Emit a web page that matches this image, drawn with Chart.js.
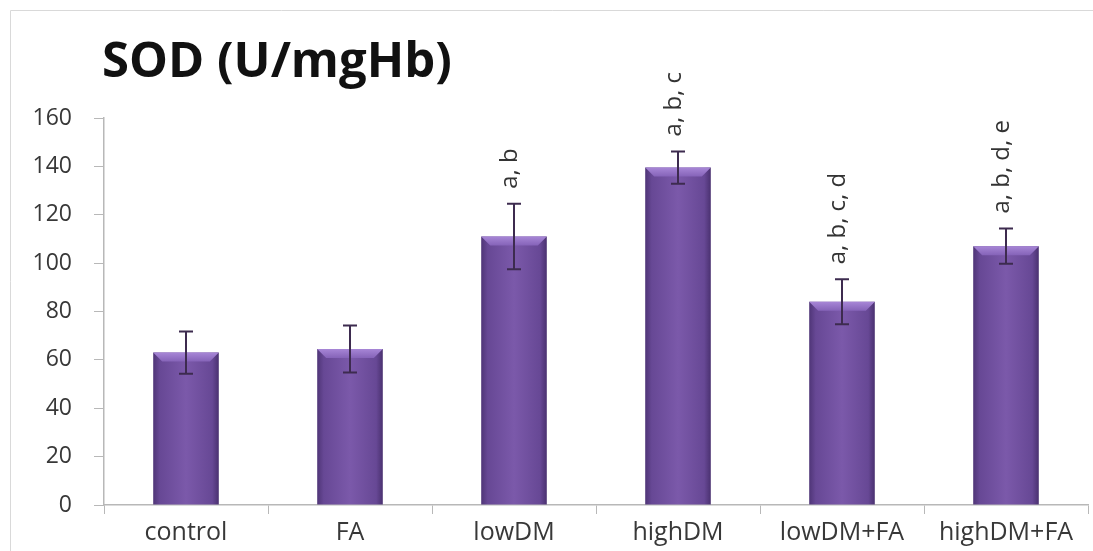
<!DOCTYPE html>
<html>
<head>
<meta charset="utf-8">
<script src="https://cdn.jsdelivr.net/npm/chart.js@4/dist/chart.umd.min.js"></script>
<style>
  html, body { margin: 0; padding: 0; background: #fff; }
  #wrap { width: 1093px; height: 551px; position: relative; }
</style>
</head>
<body>
<div id="wrap"><canvas id="chart-container" width="1093" height="551"></canvas></div>
<script>
// values
const groups = ['control', 'FA', 'lowDM', 'highDM', 'lowDM+FA', 'highDM+FA'];
const sod_mean = [63, 64.5, 111, 139.5, 84, 107];
const sod_err = [8.7, 9.7, 13.5, 6.7, 9.3, 7.3];
const sig_letters = ['', '', 'a, b', 'a, b, c', 'a, b, c, d', 'a, b, d, e'];
const y_ticks = [0, 20, 40, 60, 80, 100, 120, 140, 160];
const chart_title = 'SOD (U/mgHb)';

const FONT = "'Open Sans', sans-serif";

// frame + title, drawn before everything
const frame_plugin = {
    id: 'frame',
    beforeDraw(chart) {
        const ctx = chart.ctx;
        ctx.save();
        ctx.strokeStyle = '#d9d9d9';
        ctx.lineWidth = 1;
        ctx.beginPath();
        ctx.moveTo(10.5, 560);
        ctx.lineTo(10.5, 10.5);
        ctx.lineTo(1100, 10.5);
        ctx.stroke();
        ctx.fillStyle = '#111';
        ctx.font = "bold 49px " + FONT;
        ctx.textBaseline = 'alphabetic';
        ctx.textAlign = 'left';
        ctx.fillText(chart_title, chart.chartArea.left - 2, 77);
        ctx.restore();
    }
};

// purple shading on each bar
const shade_plugin = {
    id: 'shade',
    beforeDatasetsDraw(chart) {
        const ctx = chart.ctx;
        const meta = chart.getDatasetMeta(0);
        for (let bar of meta.data) {
            const l = bar.x - bar.width / 2;
            const r = bar.x + bar.width / 2;
            const g = ctx.createLinearGradient(l, 0, r, 0);
            g.addColorStop(0, '#4f3577');
            g.addColorStop(0.1, '#674895');
            g.addColorStop(0.5, '#7b59aa');
            g.addColorStop(0.9, '#674895');
            g.addColorStop(1, '#4a3170');
            bar.options.backgroundColor = g;
        }
    },
    afterDatasetsDraw(chart) {
        const ctx = chart.ctx;
        const meta = chart.getDatasetMeta(0);
        const yScale = chart.scales.y;
        ctx.save();
        meta.data.forEach((bar, i) => {
            // lighter bevel at top
            const l = bar.x - bar.width / 2;
            const r = bar.x + bar.width / 2;
            const t = bar.y;
            const g = ctx.createLinearGradient(0, t, 0, t + 9);
            g.addColorStop(0, '#a786d6');
            g.addColorStop(1, '#8563b8');
            ctx.fillStyle = g;
            ctx.beginPath();
            ctx.moveTo(l, t);
            ctx.lineTo(r, t);
            ctx.lineTo(r - 9, t + 9);
            ctx.lineTo(l + 9, t + 9);
            ctx.closePath();
            ctx.fill();

            // error bar
            const hi = yScale.getPixelForValue(sod_mean[i] + sod_err[i]);
            const lo = yScale.getPixelForValue(sod_mean[i] - sod_err[i]);
            ctx.strokeStyle = '#3d2b4f';
            ctx.lineWidth = 2;
            ctx.beginPath();
            ctx.moveTo(bar.x, hi);
            ctx.lineTo(bar.x, lo);
            ctx.moveTo(bar.x - 7, hi);
            ctx.lineTo(bar.x + 7, hi);
            ctx.moveTo(bar.x - 7, lo);
            ctx.lineTo(bar.x + 7, lo);
            ctx.stroke();

            // significance letters, rotated
            if (sig_letters[i]) {
                ctx.save();
                ctx.translate(bar.x + 3, hi - 15);
                ctx.rotate(-Math.PI / 2);
                ctx.fillStyle = '#333';
                ctx.font = "24px " + FONT;
                ctx.textAlign = 'left';
                ctx.textBaseline = 'alphabetic';
                ctx.fillText(sig_letters[i], 0, 0);
                ctx.restore();
            }
        });
        ctx.restore();
    }
};

const canv = document.querySelector('#chart-container');
let sod_chart = new Chart(canv, {
    type: 'bar',
    data: {
        labels: groups,
        datasets: [{
            label: 'SOD',
            data: sod_mean,
            // scriptable so each bar gets its own options object
            backgroundColor: (c) => '#6b4a9a',
            barPercentage: 0.8,
            categoryPercentage: 0.5
        }]
    },
    options: {
        responsive: false,
        animation: false,
        layout: { padding: { left: 0, right: 5, top: 118, bottom: 0 } },
        plugins: {
            legend: { display: false },
            tooltip: { enabled: false }
        },
        scales: {
            x: {
                grid: {
                    offset: true,
                    drawOnChartArea: false,
                    drawTicks: true,
                    tickLength: 9,
                    color: '#b8b8b8'
                },
                border: { color: '#b8b8b8', width: 1.5 },
                ticks: {
                    color: '#383838',
                    font: { family: FONT, size: 25 },
                    padding: 4,
                    maxRotation: 0,
                    autoSkip: false
                },
                afterFit(scale) { scale.height = 46; }
            },
            y: {
                min: 0,
                max: 160,
                afterBuildTicks(scale) { scale.ticks = y_ticks.map((v) => ({ value: v })); },
                grid: {
                    drawOnChartArea: false,
                    drawTicks: true,
                    tickLength: 10,
                    color: '#b8b8b8'
                },
                border: { color: '#b8b8b8', width: 1.5 },
                ticks: {
                    color: '#383838',
                    font: { family: FONT, size: 23 },
                    padding: 22
                },
                afterFit(scale) { scale.width = 104; }
            }
        }
    },
    plugins: [frame_plugin, shade_plugin]
});
</script>
</body>
</html>
